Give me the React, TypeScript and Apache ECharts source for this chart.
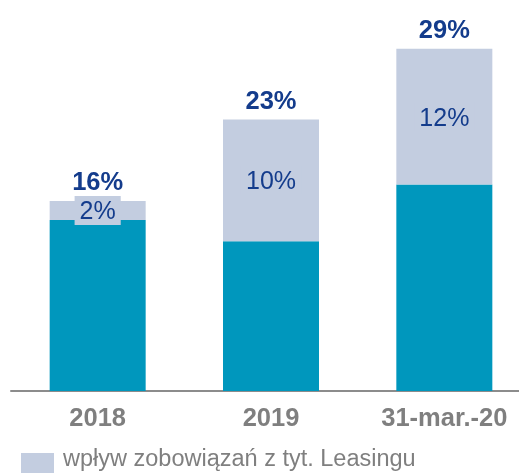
import React, { useEffect, useRef } from "react";
import * as echarts from "echarts";

const categories = ["2018", "2019", "31-mar.-20"];
const baseValues = [14.5, 12.7, 17.5];
const leaseValues = [1.6, 10.3, 11.5];
const leaseLabels = ["2%", "10%", "12%"];
const totalLabels = ["16%", "23%", "29%"];
const leaseName = "wpływ zobowiązań z tyt. Leasingu";

const TEAL = "#0097bd";
const LIGHT = "#c3cde0";
const NAVY = "#143c8c";
const GRAY = "#7f7f7f";
const FONT = "'Liberation Sans', Arial, sans-serif";

export default function App() {
  const ref = useRef<HTMLDivElement>(null);
  useEffect(() => {
    if (!ref.current) return;
    const chart = echarts.init(ref.current, undefined, { renderer: "svg" });
    chart.setOption({
      animation: false,
      textStyle: { fontFamily: FONT },
      grid: {
        left: 11,
        top: 37,
        width: 520,
        height: 354,
        containLabel: false,
        outerBoundsMode: "none",
      },
      legend: {
        data: [leaseName],
        left: 21,
        top: 446,
        padding: 0,
        itemWidth: 33,
        itemHeight: 20,
        itemGap: 10,
        selectedMode: false,
        icon: "rect",
        formatter: "{t|{name}}",
        textStyle: {
          fontSize: 23.5,
          color: GRAY,
          fontFamily: FONT,
          rich: {
            t: { fontSize: 23.5, color: GRAY, fontFamily: FONT, padding: [0, 0, 10, 4] },
          },
        },
      },
      xAxis: {
        type: "category",
        data: categories,
        axisLine: { show: true, lineStyle: { color: "#8c8c8c", width: 2 } },
        axisTick: { show: false },
        axisLabel: { fontSize: 25.5, fontWeight: "bold", color: GRAY, margin: 13, fontFamily: FONT },
      },
      yAxis: {
        type: "value",
        min: 0,
        max: 30,
        show: false,
        splitLine: { show: false },
      },
      series: [
        {
          name: "base",
          type: "bar",
          stack: "s",
          data: baseValues,
          barWidth: 96,
          itemStyle: { color: TEAL },
        },
        {
          name: leaseName,
          type: "bar",
          stack: "s",
          data: leaseValues,
          barWidth: 96,
          itemStyle: { color: LIGHT },
          label: {
            show: true,
            position: "inside",
            formatter: (p: any) => leaseLabels[p.dataIndex],
            fontSize: 25,
            color: NAVY,
            fontFamily: FONT,
            backgroundColor: LIGHT,
            padding: [2, 5],
          },
        },
        {
          name: "total",
          type: "bar",
          stack: "s",
          data: leaseValues.map(() => 0),
          barWidth: 96,
          itemStyle: { color: "transparent" },
          label: {
            show: true,
            position: "top",
            distance: 7,
            formatter: (p: any) => totalLabels[p.dataIndex],
            fontSize: 25.5,
            fontWeight: "bold",
            color: NAVY,
            fontFamily: FONT,
          },
        },
      ],
    });
    return () => chart.dispose();
  }, []);
  return (
    <div
      ref={ref}
      style={{ position: "fixed", left: 0, top: 0, width: 519, height: 473 }}
    />
  );
}
